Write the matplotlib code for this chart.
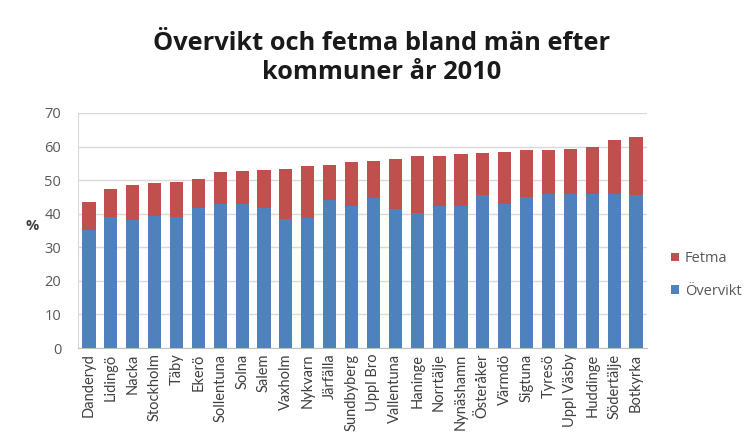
import matplotlib
matplotlib.use("Agg")
import matplotlib.pyplot as plt
from matplotlib import font_manager
import numpy as np

kommuner = ["Danderyd", "Lidingö", "Nacka", "Stockholm", "Täby", "Ekerö",
            "Sollentuna", "Solna", "Salem", "Vaxholm", "Nykvarn", "Järfälla",
            "Sundbyberg", "Uppl Bro", "Vallentuna", "Haninge", "Norrtälje",
            "Nynäshamn", "Österåker", "Värmdö", "Sigtuna", "Tyresö",
            "Uppl Väsby", "Huddinge", "Södertälje", "Botkyrka"]
overvikt = [35.2, 38.9, 38.2, 39.4, 39.0, 41.6, 42.9, 42.9, 41.7, 38.4, 38.6, 44.2,
            42.4, 44.7, 41.4, 40.2, 42.4, 42.2, 45.5, 42.9, 45.0, 46.0,
            46.0, 46.0, 46.0, 45.7]
totalt = [43.5, 47.4, 48.6, 49.2, 49.5, 50.2, 52.5, 52.8, 52.9, 53.2, 54.1, 54.4,
          55.5, 55.6, 56.4, 57.1, 57.3, 57.9, 58.1, 58.3, 58.9, 59.1,
          59.3, 60.0, 62.0, 62.8]
fetma = [t - o for t, o in zip(totalt, overvikt)]
yticks = [0, 10, 20, 30, 40, 50, 60, 70]

names = {f.name for f in font_manager.fontManager.ttflist}
narrow = "Liberation Sans Narrow" if "Liberation Sans Narrow" in names else "Lato"

plt.rcParams['font.family'] = ['Open Sans', 'DejaVu Sans']

fig = plt.figure(figsize=(7.52, 4.44), dpi=100)
ax = fig.add_axes([78/752, 1-348/444, (647-78)/752, (348-113)/444])

x = np.arange(len(kommuner))
blue = "#4F81BD"
red = "#C0504D"
b1 = ax.bar(x, overvikt, width=0.6, color=blue, label="Övervikt", zorder=3)
b2 = ax.bar(x, fetma, bottom=overvikt, width=0.6, color=red, label="Fetma", zorder=3)

ax.set_xlim(-0.5, len(kommuner) - 0.5)
ax.set_ylim(0, 70)
ax.set_yticks(yticks)
ax.set_yticklabels([str(v) for v in yticks], color="#595959", fontsize=10.5)
ax.grid(axis="y", color="#D9D9D9", linewidth=1, zorder=0)
for s in ["top", "right"]:
    ax.spines[s].set_visible(False)
ax.spines["left"].set_color("#D9D9D9")
ax.spines["bottom"].set_color("#BFBFBF")
ax.tick_params(axis="y", length=0, pad=12)
ax.set_xticks(x)
ax.set_xticklabels(kommuner, rotation=90, fontsize=10.5, color="#404040",
                   family=[narrow, "DejaVu Sans"])
ax.tick_params(axis="x", length=0, pad=4)

fig.text(32/752, 1-226/444, "%", fontsize=10.5, fontweight="bold", color="#404040",
         ha="center", va="center")

fig.text(382/752, 1-58/444, "Övervikt och fetma bland män efter\nkommuner år 2010",
         ha="center", va="center", fontsize=18.3, fontweight="bold",
         linespacing=1.25, color="#1a1a1a")

ax.legend(handles=[b2, b1], labels=["Fetma", "Övervikt"], loc="center left",
          bbox_to_anchor=(671/752, 1-275/444), bbox_transform=fig.transFigure,
          frameon=False, fontsize=10.5, handlelength=0.55, handleheight=0.55,
          labelspacing=1.2, handletextpad=0.4, labelcolor="#595959",
          borderpad=0, borderaxespad=0)

fig.savefig("out.png", dpi=100)
